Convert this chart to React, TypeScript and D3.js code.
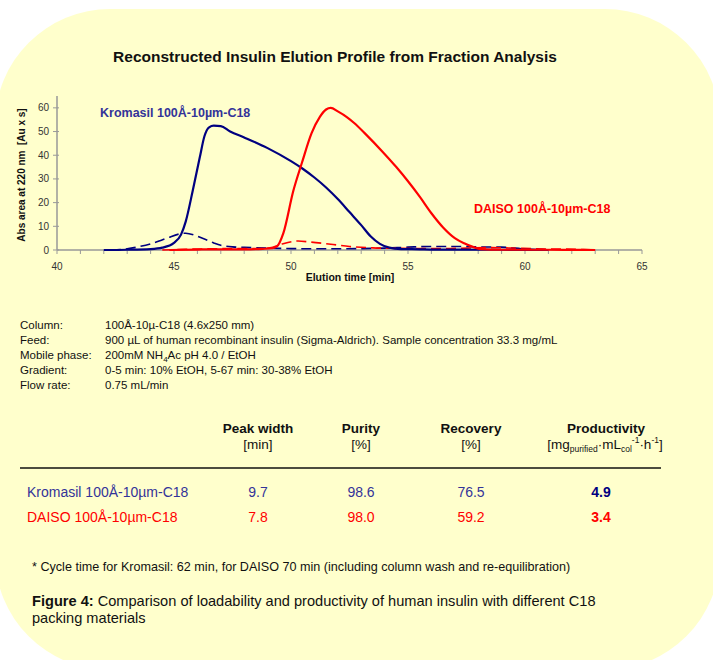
import * as d3 from 'd3'

// elution profile: time [min] and abs area [Au x s]
const kromasilTime = [42, 43, 44, 44.5, 45, 45.3, 45.5, 45.8, 46.1, 46.3, 46.5, 46.7, 47.0, 47.4, 48, 49, 50, 50.5, 51, 51.5, 52, 52.5, 53, 53.4, 53.8, 54.2, 54.7, 55.5, 56, 57, 58, 59, 60, 61]
const kromasilArea = [0, 0.1, 0.4, 1.0, 3, 6.5, 12, 25, 39, 48, 51.8, 52.5, 52.3, 50, 47.5, 43, 37.5, 34.3, 30.6, 26.4, 21.5, 16, 10.5, 5.8, 2.6, 1.0, 0.4, 0.3, 0.2, 0.2, 0.1, 0.1, 0.05, 0]

const kromasilFracTime = [42.3, 43, 43.5, 44, 44.7, 45.2, 45.5, 45.9, 46.3, 46.7, 47, 47.5, 48, 49, 50, 51, 52, 53, 54, 55, 56, 57, 58, 59, 60, 61]
const kromasilFracArea = [0, 0.5, 1.4, 2.6, 5, 6.7, 7.1, 6.2, 4.6, 3, 2, 1.3, 1.1, 0.8, 0.6, 0.5, 0.5, 0.6, 0.8, 1.2, 1.5, 1.5, 1.3, 1.2, 0.4, 0.1]

const daisoTime = [44.8, 46, 47, 48, 48.8, 49.2, 49.4, 49.67, 50.1, 50.46, 50.88, 51.24, 51.5, 51.7, 52.0, 52.4, 52.7, 53.2, 53.9, 54.5, 55, 55.5, 56, 56.5, 57, 57.4, 57.8, 58.1, 59, 60, 61, 62, 63]
const daisoArea = [0, 0.2, 0.3, 0.3, 0.5, 0.8, 1.5, 7, 25, 36.6, 49.3, 56.3, 59.3, 60, 58.5, 56, 53.6, 48.8, 41.6, 35, 29, 22.5, 15.5, 9.5, 5, 2.8, 1.2, 0.4, 0.1, 0.1, 0.1, 0.05, 0]

const daisoFracTime = [44.5, 45.5, 46.5, 47.5, 48.5, 49.1, 49.6, 50.3, 50.8, 51.8, 52.5, 53.5, 54.5, 55.5, 56.5, 57.5, 58.5, 59.5, 60.5, 61.5, 62.5, 63]
const daisoFracArea = [0, 0.3, 0.5, 0.6, 0.6, 0.9, 2.5, 3.8, 3.4, 2.3, 1.5, 0.9, 0.7, 0.6, 0.6, 0.8, 1, 0.8, 0.5, 0.4, 0.2, 0]

const xTicks = [40, 45, 50, 55, 60, 65]
const yTicks = [0, 10, 20, 30, 40, 50, 60]

const conditionLabels = ['Column:', 'Feed:', 'Mobile phase:', 'Gradient:', 'Flow rate:']

const columns = ['Kromasil 100Å-10µm-C18', 'DAISO 100Å-10µm-C18']
const peakWidth = ['9.7', '7.8']
const purity = ['98.6', '98.0']
const recovery = ['76.5', '59.2']
const productivity = ['4.9', '3.4']

const FONT = '"Liberation Sans", Arial, sans-serif'
const NAVY = '#000080'
const RED = '#ff0000'
const BLUE_TEXT = '#333399'

const x = d3.scaleLinear().domain([40, 65]).range([57, 642])
const y = d3.scaleLinear().domain([0, 65]).range([250, 96])

const line = d3.line<[number, number]>()
  .x(d => x(d[0]))
  .y(d => y(d[1]))
  .curve(d3.curveMonotoneX)

const zip = (t: number[], v: number[]) => t.map((d, i) => [d, v[i]] as [number, number])

export default function App() {
  const minorTicks = d3.range(40, 66, 1)
  const series = [
    { data: zip(kromasilFracTime, kromasilFracArea), color: NAVY, dash: '10,5', w: 1.6 },
    { data: zip(daisoFracTime, daisoFracArea), color: RED, dash: '10,5', w: 1.6 },
    { data: zip(kromasilTime, kromasilArea), color: NAVY, dash: null, w: 2.2 },
    { data: zip(daisoTime, daisoArea), color: RED, dash: null, w: 2.2 },
  ]
  const colX = [258, 361, 471, 601]
  const rowY = [497, 522]

  return (
    <div style={{ position: 'absolute', left: 0, top: 0 }}>
      <svg width={713} height={660} style={{ display: 'block', fontFamily: FONT }}>
        <rect x={0} y={0} width={713} height={660} fill="#fff" />
        <rect x={-5} y={9} width={725} height={661} rx={115} ry={115} fill="#ffffcc" />

        <text x={335} y={62} textAnchor="middle" fontSize={15.5} fontWeight="bold" fill="#111">
          Reconstructed Insulin Elution Profile from Fraction Analysis
        </text>

        {/* axes */}
        <g stroke="#999" strokeWidth={1.5}>
          <line x1={x(40)} x2={x(40)} y1={y(65)} y2={y(0)} />
          <line x1={x(40)} x2={x(65)} y1={y(0)} y2={y(0)} />
          {minorTicks.map(t => (
            <line key={t} x1={x(t)} x2={x(t)} y1={y(0)} y2={y(0) + 4} strokeWidth={1} />
          ))}
          {yTicks.map(t => (
            <line key={t} x1={x(40) - 4} x2={x(40) + 2} y1={y(t)} y2={y(t)} strokeWidth={1} />
          ))}
        </g>
        <g fontSize={10} fill="#333">
          {xTicks.map(t => (
            <text key={t} x={x(t)} y={270} textAnchor="middle">{t}</text>
          ))}
          {yTicks.map(t => (
            <text key={t} x={x(40) - 8} y={y(t) + 3.5} textAnchor="end">{t}</text>
          ))}
        </g>
        <text x={350} y={281} textAnchor="middle" fontSize={10.5} fontWeight="bold" fill="#111">
          Elution time [min]
        </text>
        <text transform="translate(25,175) rotate(-90)" textAnchor="middle" fontSize={10} fontWeight="bold" fill="#111" xmlSpace="preserve">
          Abs area at 220 nm  [Au x s]
        </text>

        {series.map((s, i) => (
          <path key={i} d={line(s.data) || ''} fill="none" stroke={s.color} strokeWidth={s.w}
            strokeDasharray={s.dash || undefined} strokeLinejoin="round" />
        ))}

        <text x={100} y={117} fontSize={12.5} fontWeight="bold" fill={BLUE_TEXT}>Kromasil 100Å-10µm-C18</text>
        <text x={474} y={213} fontSize={12.5} fontWeight="bold" fill={RED}>DAISO 100Å-10µm-C18</text>

        {/* chromatography conditions */}
        <g fontSize={11.5} fill="#111">
          {conditionLabels.map((l, i) => (
            <text key={l} x={20} y={329 + i * 15}>{l}</text>
          ))}
          <text x={105} y={329}>100Å-10µ-C18 (4.6x250 mm)</text>
          <text x={105} y={344}>900 µL of human recombinant insulin (Sigma-Aldrich). Sample concentration 33.3 mg/mL</text>
          <text x={105} y={359}>200mM NH<tspan dy={3} fontSize={8}>4</tspan><tspan dy={-3}>Ac pH 4.0 / EtOH</tspan></text>
          <text x={105} y={374}>0-5 min: 10% EtOH, 5-67 min: 30-38% EtOH</text>
          <text x={105} y={389}>0.75 mL/min</text>
        </g>

        {/* results table */}
        <g fontSize={13.5} fill="#111" textAnchor="middle">
          <text x={colX[0]} y={433} fontWeight="bold">Peak width</text>
          <text x={colX[0]} y={449}>[min]</text>
          <text x={colX[1]} y={433} fontWeight="bold">Purity</text>
          <text x={colX[1]} y={449}>[%]</text>
          <text x={colX[2]} y={433} fontWeight="bold">Recovery</text>
          <text x={colX[2]} y={449}>[%]</text>
          <text x={606} y={433} fontWeight="bold">Productivity</text>
          <text x={605} y={449}>[mg<tspan dy={3} fontSize={8.5}>purified</tspan><tspan dy={-3}>·mL</tspan><tspan dy={3} fontSize={8.5}>col</tspan><tspan dy={-9} fontSize={8.5}>-1</tspan><tspan dy={6}>·h</tspan><tspan dy={-6} fontSize={8.5}>-1</tspan><tspan dy={6}>]</tspan></text>
        </g>
        <line x1={20} x2={661} y1={468} y2={468} stroke="#111" strokeWidth={1.5} />
        {columns.map((c, i) => {
          const col = i === 0 ? BLUE_TEXT : RED
          return (
            <g key={c} fontSize={14} fill={col}>
              <text x={27} y={rowY[i]}>{c}</text>
              <text x={colX[0]} y={rowY[i]} textAnchor="middle">{peakWidth[i]}</text>
              <text x={colX[1]} y={rowY[i]} textAnchor="middle">{purity[i]}</text>
              <text x={colX[2]} y={rowY[i]} textAnchor="middle">{recovery[i]}</text>
              <text x={colX[3]} y={rowY[i]} textAnchor="middle" fontWeight="bold" fill={i === 0 ? NAVY : RED}>{productivity[i]}</text>
            </g>
          )
        })}

        <text x={32} y={571} fontSize={12.6} fill="#111">
          * Cycle time for Kromasil: 62 min, for DAISO 70 min (including column wash and re-equilibration)
        </text>
        <text x={32} y={606} fontSize={14.6} fill="#111">
          <tspan fontWeight="bold">Figure 4:</tspan> Comparison of loadability and productivity of human insulin with different C18
        </text>
        <text x={32} y={623} fontSize={14.6} fill="#111">packing materials</text>
      </svg>
    </div>
  )
}
